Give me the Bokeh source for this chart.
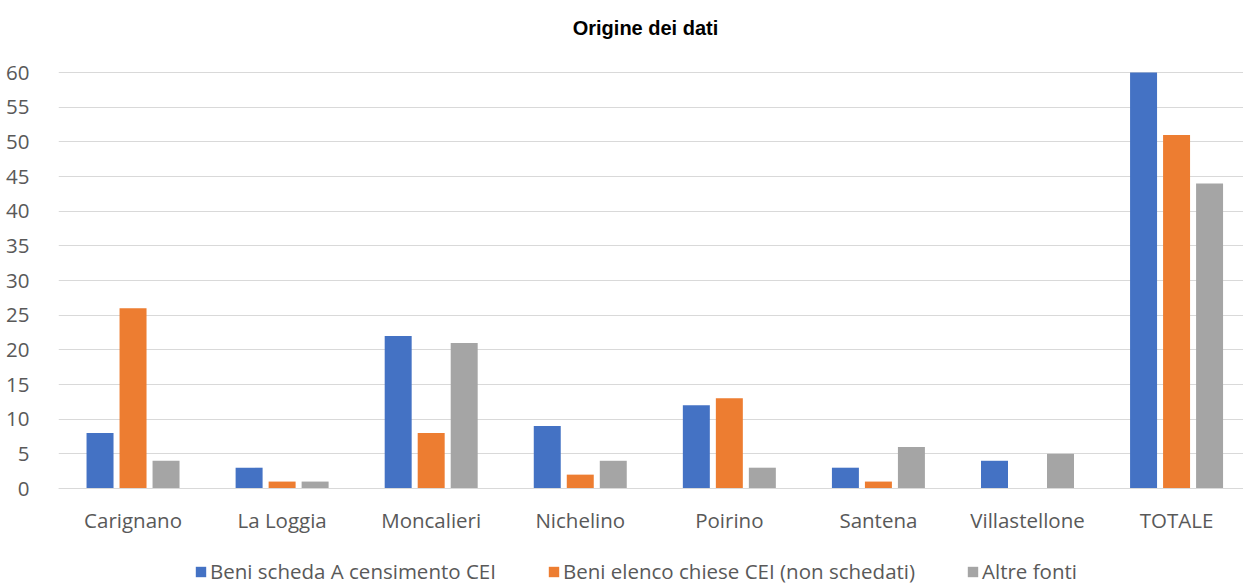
from bokeh.plotting import figure
from bokeh.models import ColumnDataSource, Legend, LegendItem, Range1d, FixedTicker, Label
from bokeh.transform import dodge
from bokeh.embed import file_html
from bokeh.resources import INLINE

title_text = "Origine dei dati"
categories = ["Carignano", "La Loggia", "Moncalieri", "Nichelino", "Poirino", "Santena", "Villastellone", "TOTALE"]
scheda_a = [8, 3, 22, 9, 12, 3, 4, 60]
elenco_chiese = [26, 1, 8, 2, 13, 1, 0, 51]
altre_fonti = [4, 1, 21, 4, 3, 6, 5, 44]
series_names = ["Beni scheda A censimento CEI", "Beni elenco chiese CEI (non schedati)", "Altre fonti"]
y_ticks = [0, 5, 10, 15, 20, 25, 30, 35, 40, 45, 50, 55, 60]
colors = ["#4472C4", "#ED7D31", "#A5A5A5"]

pos = list(range(len(categories)))
src = ColumnDataSource(dict(x=pos, a=scheda_a, b=elenco_chiese, c=altre_fonti))

p = figure(x_range=Range1d(-0.5, 7.449), y_range=Range1d(-13.99, 70.385),
           width=1243, height=585, output_backend="svg", toolbar_location=None,
           min_border_left=58, min_border_right=0, min_border_top=0, min_border_bottom=0)
p.title.visible = False

p.add_layout(Label(x=587, y=558, x_units="screen", y_units="screen", text=title_text,
                   text_align="center", text_baseline="middle", text_font="Liberation Sans",
                   text_font_size="20px", text_font_style="bold", text_color="#000000"))

items = []
for col, off, name, colr in zip(["a", "b", "c"], [-0.2214, 0.0, 0.2214], series_names, colors):
    r = p.vbar(x=dodge("x", off), top=col, width=0.181, source=src,
               fill_color=colr, line_color=None)
    items.append(LegendItem(label=name, renderers=[r]))

legend = Legend(items=items, orientation="horizontal", location=(136, 0),
                label_text_font="Open Sans", label_text_font_size="20.5px", label_text_color="#595959",
                glyph_width=13, glyph_height=13, spacing=51, label_standoff=3,
                border_line_color=None, background_fill_alpha=0, margin=0, padding=0)
p.add_layout(legend, "center")

p.yaxis.ticker = FixedTicker(ticks=y_ticks)
p.yaxis.axis_line_color = None
p.yaxis.major_tick_line_color = None
p.yaxis.minor_tick_line_color = None
p.yaxis.major_label_text_font = "Open Sans"
p.yaxis.major_label_text_font_size = "20.5px"
p.yaxis.major_label_text_color = "#595959"
p.yaxis.major_label_standoff = 23

p.xaxis.ticker = FixedTicker(ticks=pos)
p.xaxis.major_label_overrides = {i: c for i, c in zip(pos, categories)}
p.xaxis.fixed_location = 0
p.xaxis.axis_line_color = "#D9D9D9"
p.xaxis.major_tick_line_color = None
p.xaxis.minor_tick_line_color = None
p.xaxis.major_label_text_font = "Open Sans"
p.xaxis.major_label_text_font_size = "20.5px"
p.xaxis.major_label_text_color = "#595959"
p.xaxis.major_label_standoff = 11

p.xgrid.grid_line_color = None
p.ygrid.grid_line_color = "#D9D9D9"
p.ygrid.grid_line_width = 1
p.outline_line_color = None

open("out.html", "w").write(file_html(p, INLINE))
